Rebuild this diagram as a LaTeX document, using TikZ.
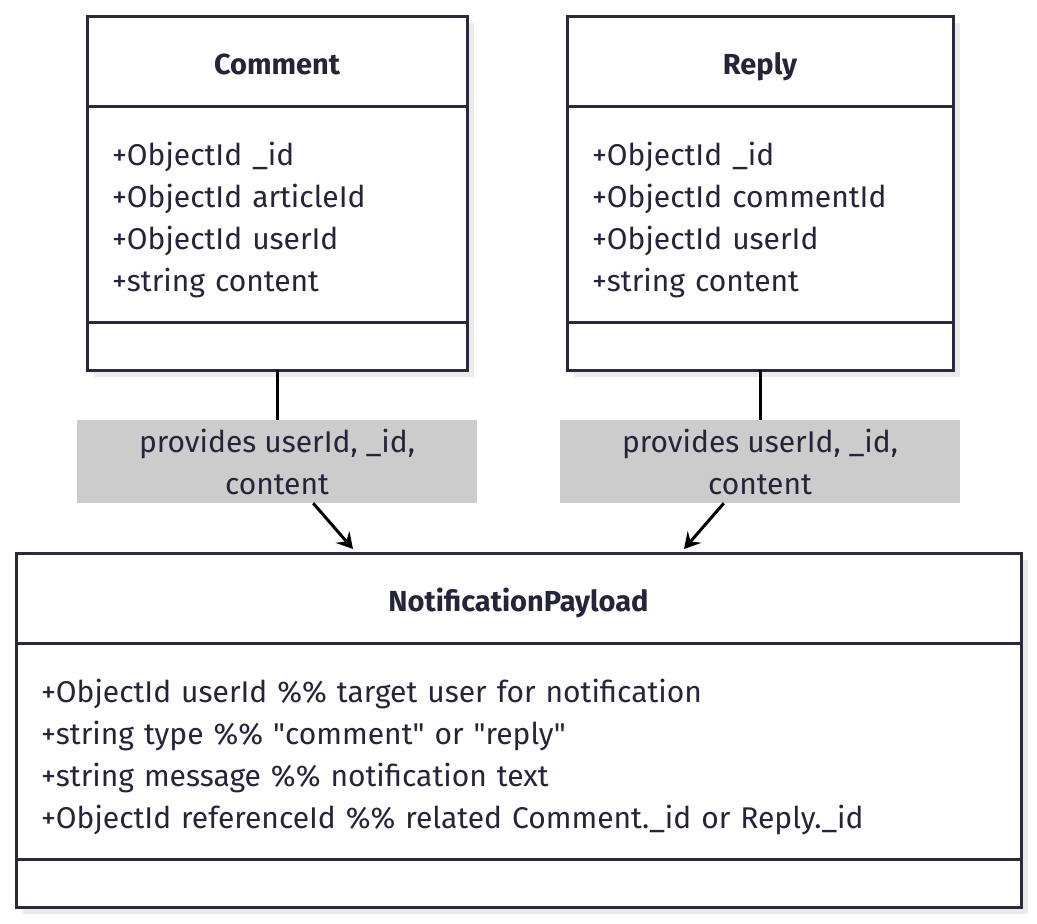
\documentclass[tikz,border=0pt]{standalone}
\usepackage{fontspec}
\setmainfont{Fira Sans}
\usepackage{xcolor}
\usetikzlibrary{arrows.meta, positioning, shadows}
\definecolor{edge}{HTML}{2B2A3C}
\definecolor{ink}{HTML}{25243A}
\definecolor{lblbg}{HTML}{CCCCCC}
\newcommand{\toppad}{\rule{0pt}{35pt}}

\begin{document}
\begin{tikzpicture}[
  x=1pt, y=-1pt, node distance=0pt,
  box/.style={draw=edge, line width=3pt, fill=white, outer sep=0pt, text=ink,
    drop shadow={shadow xshift=7pt, shadow yshift=-7pt, opacity=1, fill=black!8}},
  ttl/.style={box, minimum width=#1, minimum height=90pt, text height=27pt, text depth=0pt,
    font=\fontsize{29}{34}\selectfont\bfseries},
  att/.style={box, text width=#1, inner xsep=25pt, minimum height=216pt, align=left,
    font=\fontsize{30}{42}\selectfont},
  mth/.style={box, minimum width=#1, minimum height=48pt},
  lbl/.style={fill=lblbg, minimum width=400pt, minimum height=83pt, align=center, text=ink,
    font=\fontsize{30}{42}\selectfont},
  link/.style={draw=black, line width=3pt},
  arr/.style={link, -{Stealth[length=16pt, width=18pt, inset=6pt]}}
]
\useasboundingbox (0,0) rectangle (1037,924);

\node[ttl=380pt] (cmtT) at (277,61) {Comment};
\node[att=330pt, below=of cmtT] (cmtA) {\toppad+ObjectId \_id\\+ObjectId articleId\\+ObjectId userId\\+string content};
\node[mth=380pt, below=of cmtA] (cmtM) {};

\node[ttl=386pt] (rplT) at (760,61) {Reply};
\node[att=336pt, below=of rplT] (rplA) {\toppad+ObjectId \_id\\+ObjectId commentId\\+ObjectId userId\\+string content};
\node[mth=386pt, below=of rplA] (rplM) {};

\node[ttl=1005pt] (ntfT) at (518.5,598) {NotificationPayload};
\node[att=955pt, below=of ntfT] (ntfA) {\toppad+ObjectId userId \%\% target user for notification\\
+string type \%\% \textquotedbl comment\textquotedbl{} or \textquotedbl reply\textquotedbl\\
+string message \%\% notification text\\
+ObjectId referenceId \%\% related Comment.\_id or Reply.\_id};
\node[mth=1005pt, below=of ntfA] (ntfM) {};

\node[lbl] (lblC) at (277,461.5) {provides userId, \_id,\\content};
\node[lbl] (lblR) at (760,461.5) {provides userId, \_id,\\content};

\coordinate (inC) at (353,549);
\coordinate (inR) at (684,549);

\draw[link] (cmtM.south) -- (lblC.north);
\draw[arr] (lblC) -- (inC);
\draw[link] (rplM.south) -- (lblR.north);
\draw[arr] (lblR) -- (inR);
\end{tikzpicture}
\end{document}
